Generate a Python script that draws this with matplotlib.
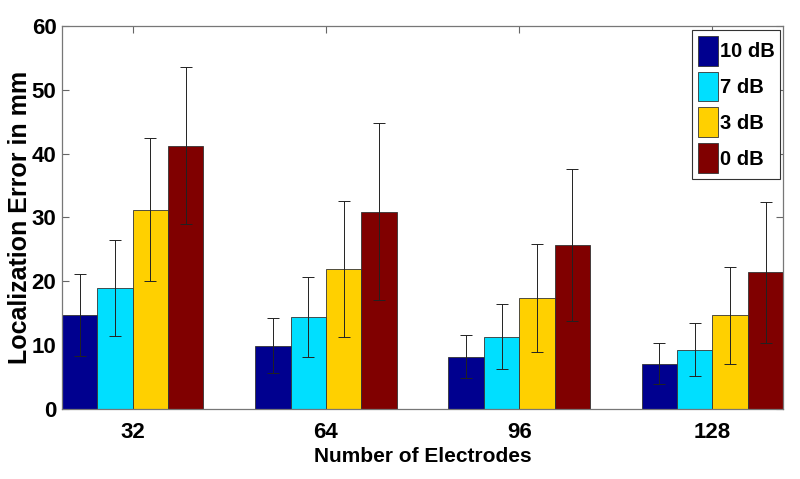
import numpy as np
import matplotlib
matplotlib.use('Agg')
import matplotlib.pyplot as plt

# データ
electrodes = ['32', '64', '96', '128']
snr_labels = ['10 dB', '7 dB', '3 dB', '0 dB']
err_10 = [14.7, 9.9, 8.2, 7.1]
err_7 = [19.0, 14.4, 11.3, 9.3]
err_3 = [31.2, 21.9, 17.4, 14.7]
err_0 = [41.2, 30.9, 25.7, 21.4]
std_10 = [6.4, 4.3, 3.4, 3.2]
std_7 = [7.5, 6.3, 5.1, 4.2]
std_3 = [11.2, 10.6, 8.4, 7.6]
std_0 = [12.3, 13.9, 11.9, 11.0]

colors = ['#00008F', '#00DFFF', '#FFD000', '#800000']
means = [err_10, err_7, err_3, err_0]
stds = [std_10, std_7, std_3, std_0]

font = ['Liberation Sans', 'DejaVu Sans']

fig = plt.figure(figsize=(8, 4.79), dpi=100)
ax = fig.add_axes([0.0775, 0.146, 0.9015, 0.8])

x = np.arange(1, len(electrodes) + 1)
w = 0.183
for i in range(4):
    pos = x + (i - 1.5) * w
    ax.bar(pos, means[i], w, color=colors[i], edgecolor='#333333', linewidth=0.6,
           label=snr_labels[i], zorder=2)
    ax.errorbar(pos, means[i], yerr=stds[i], fmt='none', ecolor='#222222',
                elinewidth=0.7, capsize=4, capthick=0.7, zorder=3)

ax.set_xlim(0.634, 4.366)
ax.set_ylim(0, 60)
ax.set_xticks(x)
ax.set_xticklabels(electrodes)
ax.set_yticks(range(0, 61, 10))
ax.tick_params(direction='in', top=True, right=True, length=5, color='#666666')
ax.tick_params(axis='x', pad=9)
ax.tick_params(axis='y', pad=4)
for lab in ax.get_xticklabels() + ax.get_yticklabels():
    lab.set_family(font)
    lab.set_fontweight('bold')
    lab.set_fontsize(16)
for s in ax.spines.values():
    s.set_color('#777777')
    s.set_linewidth(0.9)

ax.set_xlabel('Number of Electrodes', family=font, fontweight='bold', fontsize=15)
ax.xaxis.set_label_coords(0.5, -0.098)
ax.set_ylabel('Localization Error in mm', family=font, fontweight='bold', fontsize=18)
ax.yaxis.set_label_coords(-0.041, 0.5)

leg = ax.legend(loc='upper right', bbox_to_anchor=(0.996, 0.99), fancybox=False,
                edgecolor='#333333', framealpha=1, handlelength=0.95, handleheight=1.9,
                handletextpad=0.1, borderpad=0.3, labelspacing=0.3, borderaxespad=0,
                prop={'family': font, 'weight': 'bold', 'size': 14.5})
leg.get_frame().set_linewidth(0.8)

plt.savefig('out.png', dpi=100)
